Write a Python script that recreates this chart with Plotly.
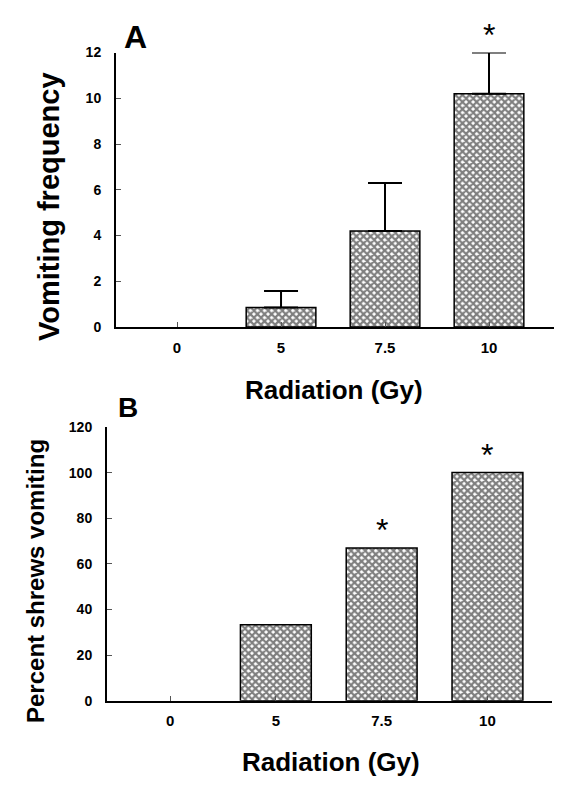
import plotly.graph_objects as go

# ---- data ----
doses = ["0", "5", "7.5", "10"]
vomit_freq = [0, 0.85, 4.2, 10.2]
vomit_sem = [0, 0.72, 2.1, 1.8]
sig_a = [False, False, False, True]

pct_vomiting = [0, 33.3, 67, 100]
sig_b = [False, False, True, True]

y_ticks_a = [0, 2, 4, 6, 8, 10, 12]
y_ticks_b = [0, 20, 40, 60, 80, 100, 120]

W, H = 566, 786
OFF = 8  # page body margin offset compensation
FONT = "Arial, Liberation Sans, sans-serif"

def px_x(p):
    return (p - OFF) / W

def px_y(p):
    return 1 - (p - OFF) / H

pattern = dict(shape="x", fgcolor="black", bgcolor="white", size=5, solidity=0.7)

def outline(vals):
    return [0 if v == 0 else 1.5 for v in vals]

fig = go.Figure()

fig.add_trace(go.Bar(
    x=doses, y=vomit_freq, width=0.67,
    marker=dict(color="white", line=dict(color="black", width=outline(vomit_freq)),
                pattern=pattern),
    xaxis="x", yaxis="y", showlegend=False, cliponaxis=False, hoverinfo="x+y",
))

# upward SEM whiskers, only where there is something to show
keep = [i for i, e in enumerate(vomit_sem) if e > 0]
fig.add_trace(go.Scatter(
    x=[doses[i] for i in keep], y=[vomit_freq[i] for i in keep], mode="markers",
    marker=dict(size=1, color="rgba(0,0,0,0)"),
    error_y=dict(type="data", array=[vomit_sem[i] for i in keep],
                 arrayminus=[0] * len(keep), symmetric=False,
                 color="black", thickness=2, width=17),
    xaxis="x", yaxis="y", showlegend=False, cliponaxis=False,
))

fig.add_trace(go.Bar(
    x=doses, y=pct_vomiting, width=0.67,
    marker=dict(color="white", line=dict(color="black", width=outline(pct_vomiting)),
                pattern=pattern),
    xaxis="x2", yaxis="y2", showlegend=False, cliponaxis=False,
))

axis_common = dict(
    showline=True, linecolor="black", linewidth=2, showgrid=False, zeroline=False,
    ticks="inside", ticklen=5, tickwidth=1, tickcolor="#555", automargin=False,
)

fig.update_layout(
    width=W, height=H, autosize=False,
    margin=dict(l=0, r=0, t=0, b=0, pad=0),
    paper_bgcolor="white", plot_bgcolor="white",
    font=dict(family=FONT, color="black"),
    xaxis=dict(axis_common, domain=[px_x(116), px_x(554)], type="category",
               categoryorder="array", categoryarray=doses,
               range=[-0.587, 3.625], anchor="y",
               tickfont=dict(size=15, weight="bold", family=FONT), ticklabelstandoff=6),
    yaxis=dict(axis_common, domain=[px_y(327), px_y(52.5)], range=[0, 12],
               tickvals=y_ticks_a, anchor="x",
               tickfont=dict(size=14, weight="bold", family=FONT), ticklabelstandoff=10),
    xaxis2=dict(axis_common, domain=[px_x(107), px_x(552)], type="category",
                categoryorder="array", categoryarray=doses,
                range=[-0.596, 3.61], anchor="y2",
                tickfont=dict(size=15, weight="bold", family=FONT), ticklabelstandoff=5),
    yaxis2=dict(axis_common, domain=[px_y(700.7), px_y(427)], range=[0, 120],
                tickvals=y_ticks_b, anchor="x2",
                tickfont=dict(size=14, weight="bold", family=FONT), ticklabelstandoff=10),
)

ann = []
# significance asterisks (category axes take the category index)
for i, (v, e, s) in enumerate(zip(vomit_freq, vomit_sem, sig_a)):
    if s:
        ann.append(dict(x=i, y=v + e, xref="x", yref="y", text="*", showarrow=False,
                        xanchor="center", yanchor="bottom", yshift=-2,
                        font=dict(size=32, family=FONT)))
for i, (v, s) in enumerate(zip(pct_vomiting, sig_b)):
    if s:
        ann.append(dict(x=i, y=v, xref="x2", yref="y2", text="*", showarrow=False,
                        xanchor="center", yanchor="bottom", yshift=-2,
                        font=dict(size=32, family=FONT)))

def label(x, y, text, size, angle=0):
    return dict(x=px_x(x), y=px_y(y), xref="paper", yref="paper", text=text,
                showarrow=False, xanchor="center", yanchor="middle", textangle=angle,
                font=dict(size=size, weight="bold", family=FONT))

# panel labels
ann.append(label(135, 37, "A", 32))
ann.append(label(128, 407, "B", 28))

# axis titles
ann.append(label(49, 207, "Vomiting frequency", 29, -90))
ann.append(label(334, 390, "Radiation (Gy)", 26))
ann.append(label(35, 581, "Percent shrews vomiting", 24, -90))
ann.append(label(331, 762, "Radiation (Gy)", 26))

fig.update_layout(annotations=ann)

fig.write_html("out.html")
